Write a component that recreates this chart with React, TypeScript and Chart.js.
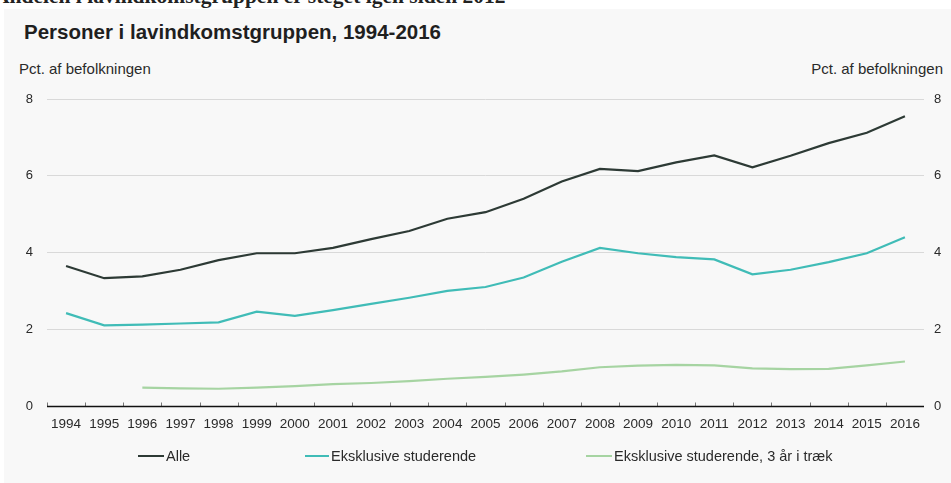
import React, { useEffect, useRef } from "react";
import { Chart, registerables } from "chart.js";

Chart.register(...registerables);

const years = [
  "1994", "1995", "1996", "1997", "1998", "1999", "2000", "2001", "2002", "2003", "2004", "2005",
  "2006", "2007", "2008", "2009", "2010", "2011", "2012", "2013", "2014", "2015", "2016",
];
const alle = [3.65, 3.33, 3.38, 3.55, 3.8, 3.98, 3.98, 4.12, 4.35, 4.56, 4.88, 5.05, 5.4, 5.85, 6.18, 6.12, 6.35, 6.53, 6.22, 6.52, 6.85, 7.12, 7.55];
const eksklusiveStuderende = [2.42, 2.1, 2.12, 2.15, 2.18, 2.46, 2.35, 2.5, 2.66, 2.82, 3.0, 3.1, 3.35, 3.76, 4.12, 3.98, 3.88, 3.82, 3.43, 3.55, 3.75, 3.98, 4.4];
const eksklusiveStuderende3Aar = [null, null, 0.48, 0.46, 0.45, 0.48, 0.52, 0.57, 0.6, 0.65, 0.71, 0.76, 0.82, 0.9, 1.01, 1.05, 1.07, 1.06, 0.98, 0.96, 0.97, 1.06, 1.16];
const seriesNames = ["Alle", "Eksklusive studerende", "Eksklusive studerende, 3 år i træk"];
const seriesColors = ["#2d3a35", "#40bcb7", "#a6d4a2"];
const yMin = 0;
const yMax = 8;
const yStep = 2;

const FONT = "'Liberation Sans', Arial, sans-serif";

const axisPlugin = {
  id: "axisTicks",
  afterDatasetsDraw(chart: any) {
    const x = chart.scales.x;
    const y = chart.scales.y;
    const ctx = chart.ctx;
    const y0 = Math.round(y.getPixelForValue(0)) + 0.5;
    const n = x.ticks.length;
    const step = (x.right - x.left) / n;
    ctx.save();
    ctx.strokeStyle = "#777";
    ctx.lineWidth = 1;
    ctx.beginPath();
    for (let i = 0; i < n; i++) {
      const px = Math.round(x.getPixelForTick(i) - step / 2) + 0.5;
      ctx.moveTo(px, y0);
      ctx.lineTo(px, y0 - 4);
    }
    ctx.stroke();
    ctx.strokeStyle = "#111";
    ctx.lineWidth = 1.6;
    ctx.beginPath();
    ctx.moveTo(x.left, y0);
    ctx.lineTo(x.right, y0);
    ctx.stroke();
    ctx.restore();
  },
};

export default function App() {
  const ref = useRef<HTMLCanvasElement | null>(null);

  useEffect(() => {
    if (!ref.current) return;
    const chart = new Chart(ref.current, {
      type: "line",
      data: {
        labels: years,
        datasets: [
          { label: seriesNames[0], data: alle, borderColor: seriesColors[0], borderWidth: 2.2 },
          { label: seriesNames[1], data: eksklusiveStuderende, borderColor: seriesColors[1], borderWidth: 2.2 },
          { label: seriesNames[2], data: eksklusiveStuderende3Aar, borderColor: seriesColors[2], borderWidth: 2.2 },
        ].map((d) => ({ ...d, pointRadius: 0, tension: 0, fill: false, spanGaps: false })),
      },
      options: {
        animation: false,
        responsive: false,
        maintainAspectRatio: false,
        layout: { padding: { top: 99, bottom: 0, left: 0, right: 0 } },
        plugins: { legend: { display: false }, tooltip: { enabled: false }, title: { display: false } },
        scales: {
          x: {
            type: "category",
            offset: true,
            grid: { display: false, drawTicks: false },
            border: { display: false },
            ticks: { color: "#2a2a2a", font: { family: FONT, size: 13.5 }, padding: 10, maxRotation: 0, autoSkip: false },
            afterFit: (s: any) => { s.height = 77; },
          },
          y: {
            position: "left",
            min: yMin,
            max: yMax,
            grid: { color: "#d9d9d9", lineWidth: 1, drawTicks: false },
            border: { display: false },
            ticks: { stepSize: yStep, color: "#2a2a2a", font: { family: FONT, size: 13 }, padding: 14 },
            afterFit: (s: any) => { s.width = 47; },
          },
          y2: {
            position: "right",
            min: yMin,
            max: yMax,
            grid: { display: false, drawTicks: false },
            border: { display: false },
            ticks: { stepSize: yStep, color: "#2a2a2a", font: { family: FONT, size: 13 }, padding: 10 },
            afterFit: (s: any) => { s.width = 27; },
          },
        },
      },
      plugins: [axisPlugin],
    });
    return () => chart.destroy();
  }, []);

  const legendItems = [
    { line: 138, text: 166 },
    { line: 305, text: 331 },
    { line: 586, text: 614 },
  ];

  return (
    <div style={{ position: "fixed", left: 0, top: 0, width: 951, height: 483, background: "#fff", overflow: "hidden", fontFamily: FONT }}>
      <div style={{ position: "absolute", left: 0, top: 0, width: 951, height: 9, overflow: "hidden" }}>
        <div style={{ position: "absolute", left: -6, top: -15, whiteSpace: "nowrap", fontFamily: "'Liberation Serif', 'Times New Roman', serif", fontWeight: 700, fontSize: 21.5, color: "#222", lineHeight: "22px" }}>
          Andelen i lavindkomstgruppen er steget igen siden 2012
        </div>
      </div>
      <div style={{ position: "absolute", left: 4, top: 9, width: 947, height: 474, background: "#f8f8f8" }} />
      <div style={{ position: "absolute", left: 24, top: 20, fontSize: 20.5, fontWeight: 700, color: "#1f1f1f", lineHeight: "24px", whiteSpace: "nowrap" }}>
        Personer i lavindkomstgruppen, 1994-2016
      </div>
      <div style={{ position: "absolute", left: 19, top: 61, fontSize: 15, color: "#2a2a2a", lineHeight: "16px", whiteSpace: "nowrap" }}>
        Pct. af befolkningen
      </div>
      <div style={{ position: "absolute", right: 8, top: 61, fontSize: 15, color: "#2a2a2a", lineHeight: "16px", whiteSpace: "nowrap" }}>
        Pct. af befolkningen
      </div>
      <canvas ref={ref} width={951} height={483} style={{ position: "absolute", left: 0, top: 0, width: 951, height: 483 }} />
      {legendItems.map((it, i) => (
        <React.Fragment key={i}>
          <div style={{ position: "absolute", left: it.line, top: 455, width: it.text - it.line - 2, height: 2, background: seriesColors[i] }} />
          <div style={{ position: "absolute", left: it.text, top: 448, fontSize: 14.5, color: "#2a2a2a", lineHeight: "16px", whiteSpace: "nowrap" }}>
            {seriesNames[i]}
          </div>
        </React.Fragment>
      ))}
    </div>
  );
}
